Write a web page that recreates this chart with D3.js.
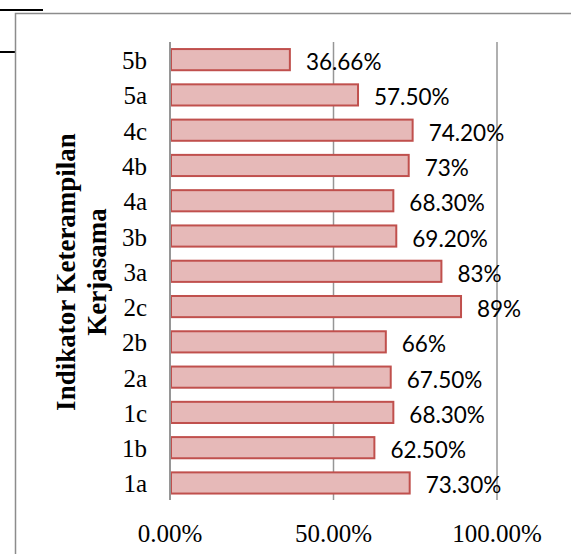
<!DOCTYPE html>
<html>
<head>
<meta charset="utf-8">
<script src="https://cdn.jsdelivr.net/npm/d3@7"></script>
<style>
html,body{margin:0;padding:0;background:#fff;}
svg{display:block;}
</style>
</head>
<body>
<svg id="chart" width="571" height="554"></svg>
<script>
const categories = ["5b","5a","4c","4b","4a","3b","3a","2c","2b","2a","1c","1b","1a"];
const values = [36.66,57.50,74.20,73,68.30,69.20,83,89,66,67.50,68.30,62.50,73.30];
const valueLabels = ["36.66%","57.50%","74.20%","73%","68.30%","69.20%","83%","89%","66%","67.50%","68.30%","62.50%","73.30%"];
const tickValues = [0,50,100];
const tickLabels = ["0.00%","50.00%","100.00%"];
const titleLines = ["Indikator Keterampilan","Kerjasama"];

const svg = d3.select("#chart");
const serif = "'Liberation Serif','Times New Roman',serif";
const sans = "Lato,'Open Sans',sans-serif";

// decorative lines and frame
svg.append("line").attr("x1",0).attr("x2",43).attr("y1",10).attr("y2",10)
  .attr("stroke","#000").attr("stroke-width",2);
svg.append("line").attr("x1",0).attr("x2",15).attr("y1",52).attr("y2",52)
  .attr("stroke","#000").attr("stroke-width",2);
svg.append("rect").attr("x",15.5).attr("y",13.5).attr("width",560).attr("height",560)
  .attr("fill","none").attr("stroke","#8c8c8c").attr("stroke-width",1.5);

const x = d3.scaleLinear().domain([0,100]).range([170,497]);
const y = d3.scaleBand().domain(categories).range([42,500.6]).paddingInner(0.4).paddingOuter(0.2);

// gridlines
svg.append("g").selectAll("line").data(tickValues.filter(d=>d>0)).join("line")
  .attr("x1",d=>x(d)).attr("x2",d=>x(d)).attr("y1",42).attr("y2",500)
  .attr("stroke","#969696").attr("stroke-width",1.5);

// bars
svg.append("g").selectAll("rect").data(categories).join("rect")
  .attr("x",x(0)+1)
  .attr("y",(d)=>y(d))
  .attr("width",(d,i)=>x(values[i])-x(0)-1)
  .attr("height",y.bandwidth())
  .attr("fill","#E6B9B8").attr("stroke","#C0504D").attr("stroke-width",2);

// y axis line
svg.append("line").attr("x1",x(0)).attr("x2",x(0)).attr("y1",42).attr("y2",500)
  .attr("stroke","#969696").attr("stroke-width",2);

// category labels
svg.append("g").selectAll("text").data(categories).join("text")
  .attr("x",147).attr("y",d=>y(d)+y.bandwidth()/2+9.5)
  .attr("text-anchor","end").attr("font-family",serif).attr("font-size",25)
  .attr("fill","#000").text(d=>d);

// value labels
svg.append("g").selectAll("text").data(categories).join("text")
  .attr("x",(d,i)=>x(values[i])+16).attr("y",d=>y(d)+y.bandwidth()/2+10.5)
  .attr("font-family",sans).attr("font-size",22.5).attr("fill","#000")
  .text((d,i)=>valueLabels[i]);

// x tick labels
svg.append("g").selectAll("text").data(tickValues).join("text")
  .attr("x",d=>x(d)).attr("y",541.5).attr("text-anchor","middle")
  .attr("font-family",serif).attr("font-size",25).attr("fill","#000")
  .text((d,i)=>tickLabels[i]);

// y axis title
const title = svg.append("text")
  .attr("transform","translate(0,272) rotate(-90)")
  .attr("text-anchor","middle").attr("font-family",serif)
  .attr("font-weight","bold").attr("font-size",27).attr("fill","#000");
title.selectAll("tspan").data(titleLines).join("tspan")
  .attr("x",0).attr("y",(d,i)=>i===0?75:106).text(d=>d);
</script>
</body>
</html>
